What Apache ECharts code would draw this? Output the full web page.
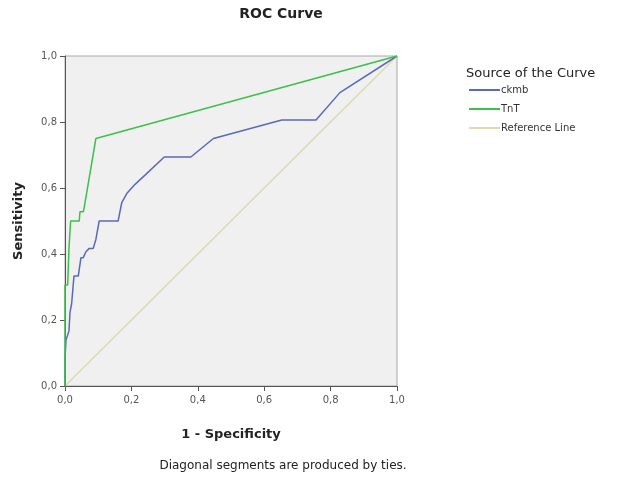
<!DOCTYPE html>
<html><head><meta charset="utf-8">
<script src="https://cdn.jsdelivr.net/npm/echarts@6/dist/echarts.min.js"></script>
<style>html,body{margin:0;padding:0;background:#fff}#c{width:620px;height:483px}</style>
</head><body><div id="c"></div>
<script>
var tickLabels = ['0,0','0,2','0,4','0,6','0,8','1,0'];
var ckmb = [[0,0],[0,0.085],[0.003,0.139],[0.007,0.139],[0.012,0.167],[0.015,0.222],[0.02,0.25],[0.027,0.333],[0.04,0.333],[0.048,0.389],[0.055,0.389],[0.063,0.407],[0.073,0.417],[0.085,0.417],[0.093,0.444],[0.103,0.5],[0.16,0.5],[0.171,0.556],[0.186,0.583],[0.211,0.611],[0.241,0.639],[0.299,0.694],[0.379,0.694],[0.447,0.75],[0.653,0.806],[0.756,0.806],[0.828,0.889],[1,1]];
var tnt = [[0,0],[0,0.306],[0.008,0.306],[0.012,0.417],[0.017,0.5],[0.043,0.5],[0.045,0.528],[0.055,0.528],[0.058,0.542],[0.093,0.75],[1,1]];
var refLine = [[0,0],[1,1]];
var seriesNames = ['ckmb','TnT','Reference Line'];

var chart = echarts.init(document.getElementById('c'));
var font = 'DejaVu Sans';
function fmt(v){ return tickLabels[Math.round(v/0.2)]; }
chart.setOption({
  animation:false,
  backgroundColor:'#fff',
  textStyle:{fontFamily:font},
  title:[
    {text:'ROC Curve', left:276, textAlign:'center', top:2, textStyle:{fontFamily:font,fontSize:14,fontWeight:'bold',color:'#222'}},
    {text:'Diagonal segments are produced by ties.', left:278, textAlign:'center', top:455, textStyle:{fontFamily:font,fontSize:12,fontWeight:'normal',color:'#222'}},
    {text:'Source of the Curve', left:461, top:62, textStyle:{fontFamily:font,fontSize:13,fontWeight:'normal',color:'#222'}}
  ],
  legend:{
    orient:'vertical', left:464, top:80, itemWidth:31, itemHeight:2, itemGap:9,
    icon:'rect',
    data:seriesNames,
    textStyle:{fontFamily:font,fontSize:10,color:'#333',padding:[0,0,0,-4]}
  },
  grid:{left:65, right:223, top:56, bottom:97, show:true, backgroundColor:'#f0f0f0', borderColor:'#a8a8a8', borderWidth:1},
  xAxis:{type:'value', min:0, max:1, interval:0.2,
    name:'1 - Specificity', nameLocation:'middle', nameGap:42,
    nameTextStyle:{fontFamily:font,fontSize:13,fontWeight:'bold',color:'#222'},
    axisLine:{show:true,lineStyle:{color:'#555',width:1}},
    axisTick:{show:true,length:5,lineStyle:{color:'#555'}},
    axisLabel:{formatter:fmt,fontSize:10,color:'#555',margin:9},
    splitLine:{show:false}},
  yAxis:{type:'value', min:0, max:1, interval:0.2,
    name:'Sensitivity', nameLocation:'middle', nameGap:40,
    nameTextStyle:{fontFamily:font,fontSize:13,fontWeight:'bold',color:'#222'},
    axisLine:{show:true,lineStyle:{color:'#555',width:1}},
    axisTick:{show:true,length:5,lineStyle:{color:'#555'}},
    axisLabel:{formatter:fmt,fontSize:10,color:'#555',margin:8},
    splitLine:{show:false}},
  series:[
    {name:'ckmb', type:'line', data:ckmb, showSymbol:false, color:'#5a6ab8', lineStyle:{width:1.5,color:'#5a6ab8'}, z:3},
    {name:'TnT', type:'line', data:tnt, showSymbol:false, color:'#3cc04c', lineStyle:{width:1.5,color:'#3cc04c'}, z:4},
    {name:'Reference Line', type:'line', data:refLine, showSymbol:false, color:'#ddd9b0', lineStyle:{width:1.5,color:'#ddd9b0'}, z:2}
  ]
});
</script></body></html>
